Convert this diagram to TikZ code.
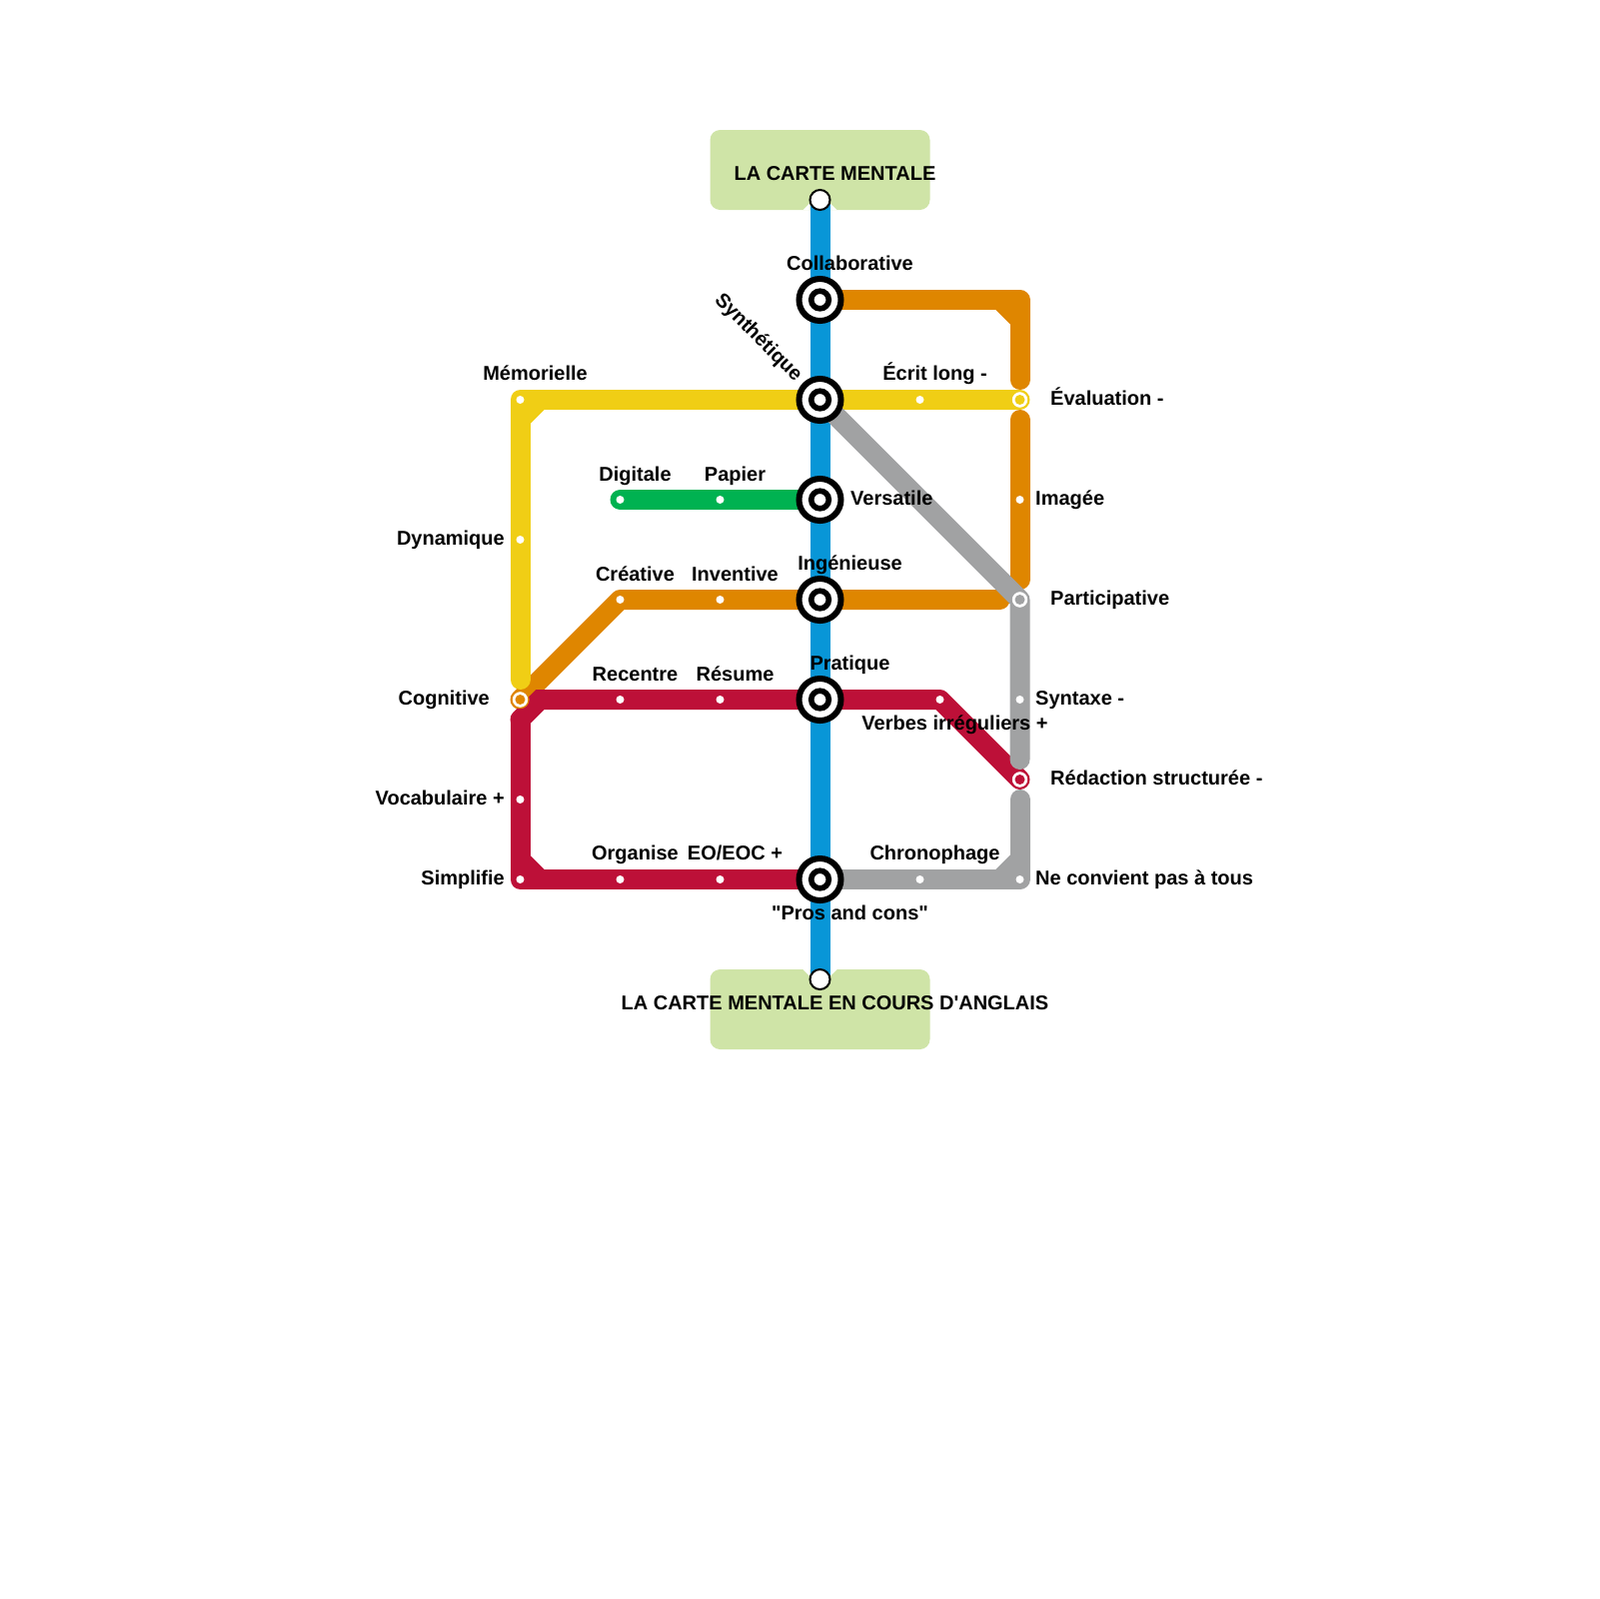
\documentclass[tikz,border=0pt]{standalone}
\usepackage{fontspec}
\setmainfont[Ligatures=TeXOff]{Liberation Sans}
\usetikzlibrary{backgrounds,calc}
\definecolor{metroblue}{HTML}{0896D7}
\definecolor{metroyellow}{HTML}{F0CE15}
\definecolor{metroorange}{HTML}{DF8600}
\definecolor{metrored}{HTML}{BD1038}
\definecolor{metrogray}{HTML}{A1A2A3}
\definecolor{metrogreen}{HTML}{00B251}
\definecolor{metrobox}{HTML}{CFE4A7}
\tikzstyle{metro} = [line width=2mm, line cap=round, line join=round]
\tikzstyle{chamfer} = [line width=2mm, line cap=butt]
\tikzstyle{hub} = [circle, draw=black, fill=white, line width=0.6mm, minimum size=4.2mm, inner sep=0pt]
\tikzstyle{hubcore} = [circle, draw=black, fill=white, line width=0.56mm, minimum size=1.76mm, inner sep=0pt]
\tikzstyle{stopdot} = [circle, fill=white, minimum size=0.8mm, inner sep=0pt]
\tikzstyle{ring} = [circle, fill=white, line width=0.13mm, minimum size=1.7mm, inner sep=0pt]
\tikzstyle{ringdot} = [circle, minimum size=1mm, inner sep=0pt]
\tikzstyle{terminal} = [circle, draw=black, fill=white, line width=0.2mm, minimum size=2mm, inner sep=0pt]
\tikzstyle{titlebox} = [rectangle, fill=metrobox, rounded corners=1mm, minimum width=22mm, minimum height=8mm, inner sep=0pt]
\tikzstyle{lbl} = [inner sep=0pt, anchor=base, yshift=-0.1mm, font=\fontsize{5.69}{7}\selectfont\bfseries]
\tikzstyle{lblleft} = [lbl, anchor=base west]
\tikzstyle{lblright} = [lbl, anchor=base east]

\begin{document}
\begin{tikzpicture}[x=0.1mm, y=-0.1mm]
\useasboundingbox (-0.5,0) rectangle (1599.5,1600);

\node[terminal] (start) at (820,200) {};
\node[terminal] (end) at (820,980) {};

\node[hub] (collab) at (820,300) {};
\node[hub] (synth) at (820,400) {};
\node[hub] (versa) at (820,500) {};
\node[hub] (ingen) at (820,600) {};
\node[hub] (prati) at (820,700) {};
\node[hub] (pros) at (820,880) {};
\foreach \h in {collab,synth,versa,ingen,prati,pros}
  \node[hubcore] at (\h) {};

\node[ring, draw=metroyellow] (evalu) at (1020,400) {};
\node[ringdot, fill=metroyellow] at (evalu) {};
\node[ring, draw=metrogray] (parti) at (1020,600) {};
\node[ringdot, fill=metrogray] at (parti) {};
\node[ring, draw=metroorange] (cogni) at (520,700) {};
\node[ringdot, fill=metroorange] at (cogni) {};
\node[ring, draw=metrored] (redac) at (1020,780) {};
\node[ringdot, fill=metrored] at (redac) {};

\node[stopdot] (memor) at (520,400) {};
\node[stopdot] (ecrit) at (920,400) {};
\node[stopdot] (digit) at (620,500) {};
\node[stopdot] (papie) at (720,500) {};
\node[stopdot] (image) at (1020,500) {};
\node[stopdot] (dynam) at (520,540) {};
\node[stopdot] (creat) at (620,600) {};
\node[stopdot] (inven) at (720,600) {};
\node[stopdot] (recen) at (620,700) {};
\node[stopdot] (resum) at (720,700) {};
\node[stopdot] (verbe) at (940,700) {};
\node[stopdot] (synta) at (1020,700) {};
\node[stopdot] (vocab) at (520,800) {};
\node[stopdot] (simpl) at (520,880) {};
\node[stopdot] (organ) at (620,880) {};
\node[stopdot] (eoeoc) at (720,880) {};
\node[stopdot] (chron) at (920,880) {};
\node[stopdot] (neconv) at (1020,880) {};

\coordinate (orangeup) at (1020,380);
\coordinate (orangedown) at (1020,420);
\coordinate (orangefoot) at (1020,580);
\coordinate (orangestop) at (1000,600);
\coordinate (yellowfoot) at (520,680);
\coordinate (grayfoot) at (1020,760);
\coordinate (grayhead) at (1020,800);
\coordinate (redturn) at (540,700);
\coordinate (redside) at (520,720);

\begin{scope}[on background layer]
\node[titlebox] (boxtop) at (820,170) {};
\node[titlebox] (boxbottom) at (820,1010) {};
\foreach \s in {1,-1} {
  \fill[white] (820+\s*17,210) -- (820+\s*10,203) -- (820+\s*10,210) -- cycle;
  \fill[white] (820+\s*17,970) -- (820+\s*10,977) -- (820+\s*10,970) -- cycle;
}
\draw[metro, metroblue, line cap=butt] (start.center) -- (end.center);

\draw[metro, metroorange] (collab.center) -| (orangeup);
\draw[chamfer, metroorange] (1000,300) -- (1020,320);
\draw[metro, metroorange] (orangedown) -- (orangefoot);
\draw[metro, metroorange] (cogni.center) -- (creat.center) -- (ingen.center) -- (orangestop);

\draw[metro, metrored] (pros.center) -- (simpl.center) -- (redside);
\draw[metro, metrored, line join=miter] (redside) -- (redturn) -- (prati.center);
\draw[metro, metrored] (prati.center) -- (verbe.center) -- (redac.center);
\draw[chamfer, metrored] (simpl.center) ++(0,-20) -- ++(20,20);

\draw[metro, metroyellow] (evalu.center) -- (memor.center) -- (yellowfoot);
\draw[chamfer, metroyellow] (memor.center) ++(20,0) -- ++(-20,20);

\draw[metro, metrogreen] (digit.center) -- (versa.center);

\draw[metro, metrogray] (synth.center) -- (parti.center) -- (grayfoot);
\draw[metro, metrogray] (grayhead) -- (neconv.center) -- (pros.center);
\draw[chamfer, metrogray] (neconv.center) ++(0,-20) -- ++(-20,20);
\end{scope}

\node[lbl] (ltop) at (835,179) {LA CARTE MENTALE};
\node[lbl] (lbottom) at (835,1009) {LA CARTE MENTALE EN COURS D'ANGLAIS};
\node[lbl] (lcollab) at (850,269) {Collaborative};
\node[lbl, rotate=-45, anchor=center] (lsynth) at (758,337) {Synthétique};
\node[lbl] (lmemor) at (535,379) {Mémorielle};
\node[lbl] (lecrit) at (935,379) {Écrit long -};
\node[lblleft] (levalu) at (1050,404) {Évaluation -};
\node[lbl] (ldigit) at (635,480) {Digitale};
\node[lbl] (lpapie) at (735,480) {Papier};
\node[lblleft] (lversa) at (850,504) {Versatile};
\node[lblleft] (limage) at (1035,504) {Imagée};
\node[lblright] (ldynam) at (505,544) {Dynamique};
\node[lbl] (lingen) at (850,569) {Ingénieuse};
\node[lbl] (lcreat) at (635,580) {Créative};
\node[lbl] (linven) at (735,580) {Inventive};
\node[lblleft] (lparti) at (1050,604) {Participative};
\node[lbl] (lprati) at (850,669) {Pratique};
\node[lbl] (lrecen) at (635,680) {Recentre};
\node[lbl] (lresum) at (735,680) {Résume};
\node[lblright] (lcogni) at (490,704) {Cognitive};
\node[lblleft] (lsynta) at (1035,704) {Syntaxe -};
\node[lbl] (lverbe) at (955,729) {Verbes irréguliers +};
\node[lblleft] (lredac) at (1050,784) {Rédaction structurée -};
\node[lblright] (lvocab) at (505,804) {Vocabulaire +};
\node[lbl] (lorgan) at (635,859) {Organise};
\node[lbl] (leoeoc) at (735,859) {EO/EOC +};
\node[lbl] (lchron) at (935,859) {Chronophage};
\node[lblright] (lsimpl) at (505,884) {Simplifie};
\node[lblleft] (lneconv) at (1035,884) {Ne convient pas à tous};
\node[lbl] (lpros) at (850,919) {"Pros and cons"};
\end{tikzpicture}
\end{document}
